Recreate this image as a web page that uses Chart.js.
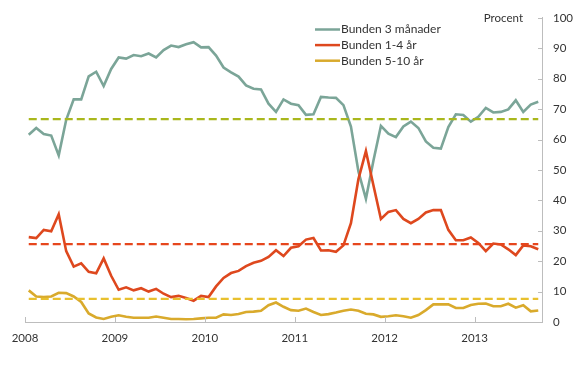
<!DOCTYPE html>
<html>
<head>
<meta charset="utf-8">
<script src="https://cdn.jsdelivr.net/npm/chart.js@4"></script>
<style>
  html, body { margin: 0; padding: 0; background: #fff; }
  #wrap { width: 580px; height: 372px; }
</style>
</head>
<body>
<div id="wrap"><canvas id="bundenChart" width="580" height="372"></canvas></div>
<script>
// monthly values Jan 2008 - Sep 2013, percent
const years = [2008, 2009, 2010, 2011, 2012, 2013];
const yTicks = [0, 10, 20, 30, 40, 50, 60, 70, 80, 90, 100];

const bunden3m = [
  61.6, 63.8, 61.8, 61.3, 54.8, 66.5, 73.2, 73.2, 80.8, 82.3, 77.6, 83.2,
  87.0, 86.6, 87.8, 87.4, 88.3, 87.0, 89.4, 90.9, 90.4, 91.3, 92.0, 90.3,
  90.4, 87.6, 83.7, 82.1, 80.7, 77.8, 76.7, 76.5, 71.8, 69.1, 73.2, 71.8,
  71.3, 68.1, 68.3, 74.0, 73.8, 73.7, 71.3, 64.3, 49.5, 40.5, 53.0, 64.5,
  61.9, 60.8, 64.3, 65.9, 63.8, 59.4, 57.3, 57.0, 64.1, 68.3, 68.1, 65.9,
  67.5, 70.4, 68.9, 69.1, 69.9, 72.9, 69.1, 71.5, 72.4
];
const bunden1to4 = [
  27.9, 27.6, 30.3, 29.8, 35.4, 23.3, 18.2, 19.3, 16.5, 16.0, 20.9, 15.2,
  10.6, 11.4, 10.4, 11.1, 10.0, 10.9, 9.3, 8.2, 8.6, 7.9, 7.0, 8.6,
  8.2, 11.7, 14.5, 16.1, 16.8, 18.4, 19.5, 20.1, 21.4, 23.6, 21.7, 24.4,
  24.9, 27.1, 27.6, 23.5, 23.6, 23.1, 25.2, 32.5, 47.0, 56.2, 45.0, 33.9,
  36.2, 36.8, 33.9, 32.5, 33.9, 36.0, 36.8, 36.8, 30.3, 26.9, 26.9, 27.8,
  26.0, 23.3, 25.8, 25.5, 23.9, 22.0, 25.2, 24.9, 23.9
];
const bunden5to10 = [
  10.4, 8.4, 8.2, 8.4, 9.6, 9.5, 8.4, 6.6, 2.8, 1.5, 1.0, 1.7,
  2.2, 1.7, 1.4, 1.4, 1.4, 1.8, 1.4, 1.0, 1.0, 0.9, 1.0, 1.2,
  1.4, 1.4, 2.5, 2.3, 2.6, 3.3, 3.4, 3.7, 5.5, 6.4, 5.0, 3.9,
  3.7, 4.4, 3.3, 2.3, 2.6, 3.1, 3.7, 4.1, 3.7, 2.7, 2.5, 1.7,
  1.9, 2.2, 1.9, 1.4, 2.3, 3.9, 5.8, 5.8, 5.8, 4.6, 4.6, 5.6,
  6.0, 6.1, 5.2, 5.2, 6.0, 4.7, 5.5, 3.5, 3.8
];
// period averages (dashed lines)
const avg3m = 66.7;
const avg1to4 = 25.6;
const avg5to10 = 7.6;

const labels = ["Bunden 3 månader", "Bunden 1-4 år", "Bunden 5-10 år"];
const colors = ["#7ba598", "#de481e", "#d9aa2c"];
const avgColors = ["#a9b71c", "#e6461d", "#e8c02e"];

const axisColor = "#bdbdbd";
const textColor = "#333333";
const fontFamily = "Lato, 'Liberation Sans', sans-serif";

// month i is plotted in the middle of its month slot
function toPoints(values) {
  return values.map((v, i) => ({ x: i + 0.5, y: v }));
}
function flatLine(v, n) {
  return [{ x: 0.5, y: v }, { x: n - 0.5, y: v }];
}

const n = bunden3m.length;

// small inward tick marks, legend and unit label
const decorPlugin = {
  id: "decor",
  afterDraw(chart) {
    const ctx = chart.ctx;
    const xs = chart.scales.x;
    const ys = chart.scales.y;
    const area = chart.chartArea;
    ctx.save();
    ctx.strokeStyle = axisColor;
    ctx.lineWidth = 1;
    years.forEach((yr, k) => {
      const px = Math.round(xs.getPixelForValue(k * 12)) + 0.5;
      ctx.beginPath();
      ctx.moveTo(px, area.bottom);
      ctx.lineTo(px, area.bottom - 5);
      ctx.stroke();
    });
    yTicks.forEach((t) => {
      const py = Math.round(ys.getPixelForValue(t)) + 0.5;
      ctx.beginPath();
      ctx.moveTo(area.right, py);
      ctx.lineTo(area.right - 4, py);
      ctx.stroke();
    });

    // unit label
    ctx.fillStyle = textColor;
    ctx.font = "11.5px " + fontFamily;
    ctx.textAlign = "right";
    ctx.textBaseline = "middle";
    ctx.fillText("Procent", area.right - 19, ys.getPixelForValue(100));

    // legend
    ctx.textAlign = "left";
    ctx.font = "12px " + fontFamily;
    labels.forEach((lab, k) => {
      const ly = 29.5 + k * 15.6;
      ctx.strokeStyle = colors[k];
      ctx.lineWidth = 2.5;
      ctx.beginPath();
      ctx.moveTo(315, ly);
      ctx.lineTo(340, ly);
      ctx.stroke();
      ctx.fillStyle = textColor;
      ctx.fillText(lab, 341, ly);
    });
    ctx.restore();
  }
};

const seriesStyle = { borderWidth: 2.6, pointRadius: 0, tension: 0, fill: false };
const avgStyle = { borderWidth: 2.4, pointRadius: 0, borderDash: [8, 4], fill: false };

new Chart(document.getElementById("bundenChart").getContext("2d"), {
  type: "line",
  data: {
    datasets: [
      { label: labels[0] + " medel", data: flatLine(avg3m, n), borderColor: avgColors[0], ...avgStyle },
      { label: labels[1] + " medel", data: flatLine(avg1to4, n), borderColor: avgColors[1], ...avgStyle },
      { label: labels[2] + " medel", data: flatLine(avg5to10, n), borderColor: avgColors[2], ...avgStyle },
      { label: labels[2], data: toPoints(bunden5to10), borderColor: colors[2], ...seriesStyle },
      { label: labels[1], data: toPoints(bunden1to4), borderColor: colors[1], ...seriesStyle },
      { label: labels[0], data: toPoints(bunden3m), borderColor: colors[0], ...seriesStyle },
    ],
  },
  options: {
    responsive: false,
    animation: false,
    layout: { padding: { left: 25, top: 13, right: 0, bottom: 0 } },
    plugins: {
      legend: { display: false },
      tooltip: { enabled: false },
    },
    scales: {
      x: {
        type: "linear",
        min: 0,
        max: n,
        grid: { display: false, drawTicks: false },
        border: { display: true, color: axisColor, width: 1 },
        afterFit: (scale) => { scale.height = 50; },
        afterBuildTicks: (scale) => {
          scale.ticks = years.map((yr, k) => ({ value: k * 12 }));
        },
        ticks: {
          color: textColor,
          font: { family: fontFamily, size: 11.5 },
          padding: 9,
          maxRotation: 0,
          autoSkip: false,
          callback: (v) => String(years[0] + v / 12),
        },
      },
      y: {
        position: "right",
        min: 0,
        max: 100,
        grid: { display: false, drawTicks: false },
        border: { display: true, color: axisColor, width: 1 },
        afterFit: (scale) => { scale.width = 38; },
        ticks: {
          stepSize: 10,
          color: textColor,
          font: { family: fontFamily, size: 11.5 },
          padding: 11,
        },
      },
    },
  },
  plugins: [decorPlugin],
});
</script>
</body>
</html>
